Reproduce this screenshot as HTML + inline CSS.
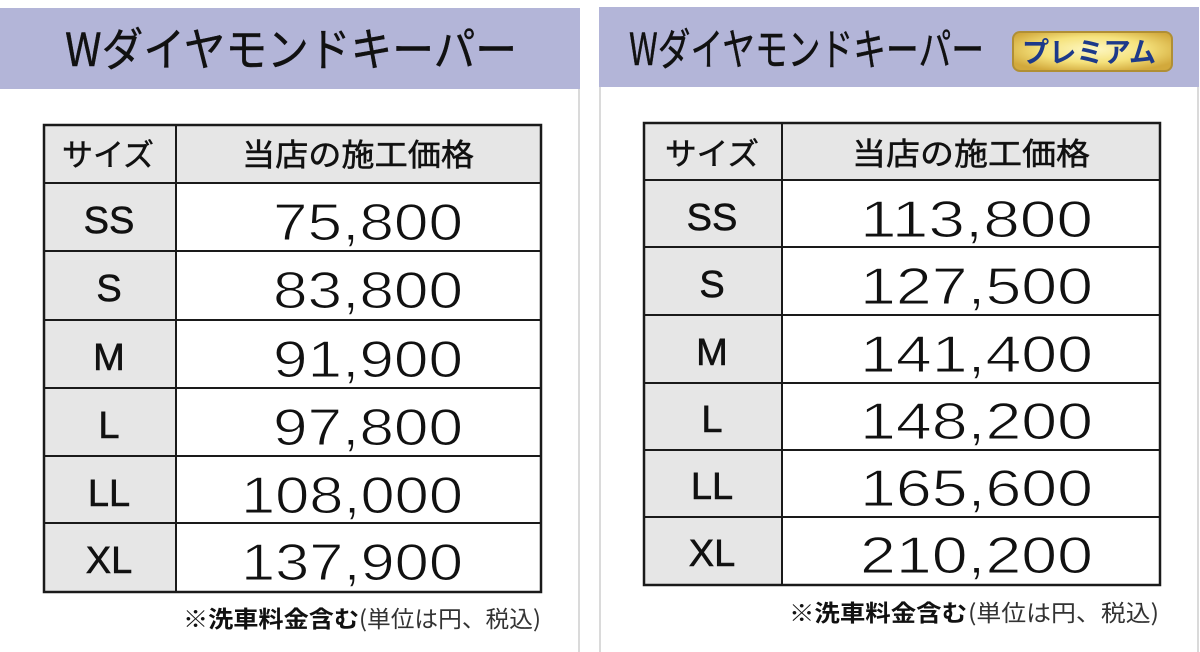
<!DOCTYPE html>
<html>
<head>
<meta charset="utf-8">
<style>
html,body{margin:0;padding:0;background:#fff;}
svg{display:block;}
.cj{font-family:"Noto Sans CJK JP",sans-serif;}
.num{font-family:"Liberation Sans",sans-serif;font-size:52px;fill:#111;stroke:#fff;stroke-width:1.1px;}
.lbl{font-family:"Liberation Sans",sans-serif;font-size:38px;fill:#111;stroke:#111;stroke-width:0.6px;}
</style>
</head>
<body>
<svg width="1200" height="652" viewBox="0 0 1200 652" xmlns="http://www.w3.org/2000/svg">
<defs>
<radialGradient id="gold" cx="0.5" cy="0.45" r="0.6">
<stop offset="0" stop-color="#fdf7c4"/>
<stop offset="0.55" stop-color="#f5e27c"/>
<stop offset="1" stop-color="#d2a93c"/>
</radialGradient>
</defs>
<rect width="1200" height="652" fill="#fff"/>

<!-- LEFT PANEL -->
<rect x="0" y="8" width="580" height="81" fill="#b3b5d8"/>
<rect x="578" y="89" width="2" height="563" fill="#dadada"/>
<text class="cj" x="65" y="66" font-size="46" fill="#111" stroke="#111" stroke-width="0.4" textLength="452" lengthAdjust="spacingAndGlyphs">Wダイヤモンドキーパー</text>

<rect x="44" y="125" width="497" height="58" fill="#e6e6e6"/>
<rect x="44" y="183" width="132" height="409" fill="#e6e6e6"/>
<g stroke="#1a1a1a" stroke-width="2" fill="none">
<rect x="44" y="125" width="497" height="467" stroke-width="2.5"/>
<line x1="176" y1="125" x2="176" y2="592"/>
<line x1="44" y1="183" x2="541" y2="183"/>
<line x1="44" y1="251" x2="541" y2="251"/>
<line x1="44" y1="320" x2="541" y2="320"/>
<line x1="44" y1="388" x2="541" y2="388"/>
<line x1="44" y1="456" x2="541" y2="456"/>
<line x1="44" y1="523" x2="541" y2="523"/>
</g>
<text class="cj" x="108" y="166" font-size="31" fill="#111" stroke="#111" stroke-width="0.5" text-anchor="middle" textLength="92" lengthAdjust="spacingAndGlyphs">サイズ</text>
<text class="cj" x="358" y="166" font-size="31" fill="#111" stroke="#111" stroke-width="0.5" text-anchor="middle" textLength="232" lengthAdjust="spacingAndGlyphs">当店の施工価格</text>

<text class="lbl" x="109" y="233" text-anchor="middle">SS</text>
<text class="lbl" x="109" y="301" text-anchor="middle">S</text>
<text class="lbl" x="109" y="370" text-anchor="middle">M</text>
<text class="lbl" x="109" y="438" text-anchor="middle">L</text>
<text class="lbl" x="109" y="506" text-anchor="middle">LL</text>
<text class="lbl" x="109" y="573" text-anchor="middle">XL</text>

<text class="num" x="463" y="240" text-anchor="end" textLength="190" lengthAdjust="spacingAndGlyphs">75,800</text>
<text class="num" x="463" y="308" text-anchor="end" textLength="190" lengthAdjust="spacingAndGlyphs">83,800</text>
<text class="num" x="463" y="377" text-anchor="end" textLength="190" lengthAdjust="spacingAndGlyphs">91,900</text>
<text class="num" x="463" y="445" text-anchor="end" textLength="190" lengthAdjust="spacingAndGlyphs">97,800</text>
<text class="num" x="463" y="513" text-anchor="end" textLength="222" lengthAdjust="spacingAndGlyphs">108,000</text>
<text class="num" x="463" y="580" text-anchor="end" textLength="222" lengthAdjust="spacingAndGlyphs">137,900</text>

<text class="cj" x="183" y="627" font-size="23" font-weight="bold" fill="#111" textLength="176" lengthAdjust="spacingAndGlyphs">※洗車料金含む</text>
<text class="cj" x="359" y="627" font-size="23" fill="#333" textLength="182" lengthAdjust="spacingAndGlyphs">(単位は円、税込)</text>

<!-- RIGHT PANEL -->
<rect x="599" y="7" width="600" height="80" fill="#b3b5d8"/>
<rect x="599" y="87" width="2" height="565" fill="#dadada"/>
<rect x="1197" y="87" width="2" height="565" fill="#dadada"/>
<text class="cj" x="629" y="65" font-size="44" fill="#111" stroke="#111" stroke-width="0.4" textLength="355" lengthAdjust="spacingAndGlyphs">Wダイヤモンドキーパー</text>

<rect x="1013" y="32" width="159" height="39" rx="7" ry="7" fill="url(#gold)" stroke="#b08f35" stroke-width="2"/>
<text class="cj" x="1022" y="62" font-size="28" font-weight="bold" fill="#1d3a8a" textLength="134" lengthAdjust="spacingAndGlyphs">プレミアム</text>

<rect x="644" y="123" width="516" height="57" fill="#e6e6e6"/>
<rect x="644" y="180" width="138" height="405" fill="#e6e6e6"/>
<g stroke="#1a1a1a" stroke-width="2" fill="none">
<rect x="644" y="123" width="516" height="462" stroke-width="2.5"/>
<line x1="782" y1="123" x2="782" y2="585"/>
<line x1="644" y1="180" x2="1160" y2="180"/>
<line x1="644" y1="247" x2="1160" y2="247"/>
<line x1="644" y1="315" x2="1160" y2="315"/>
<line x1="644" y1="383" x2="1160" y2="383"/>
<line x1="644" y1="450" x2="1160" y2="450"/>
<line x1="644" y1="517" x2="1160" y2="517"/>
</g>
<text class="cj" x="712" y="165" font-size="31" fill="#111" stroke="#111" stroke-width="0.5" text-anchor="middle" textLength="94" lengthAdjust="spacingAndGlyphs">サイズ</text>
<text class="cj" x="971" y="165" font-size="31" fill="#111" stroke="#111" stroke-width="0.5" text-anchor="middle" textLength="238" lengthAdjust="spacingAndGlyphs">当店の施工価格</text>

<text class="lbl" x="712" y="230" text-anchor="middle">SS</text>
<text class="lbl" x="712" y="297" text-anchor="middle">S</text>
<text class="lbl" x="712" y="365" text-anchor="middle">M</text>
<text class="lbl" x="712" y="432" text-anchor="middle">L</text>
<text class="lbl" x="712" y="499" text-anchor="middle">LL</text>
<text class="lbl" x="712" y="566" text-anchor="middle">XL</text>

<text class="num" x="1093" y="237" text-anchor="end" textLength="233" lengthAdjust="spacingAndGlyphs">113,800</text>
<text class="num" x="1093" y="304" text-anchor="end" textLength="233" lengthAdjust="spacingAndGlyphs">127,500</text>
<text class="num" x="1093" y="372" text-anchor="end" textLength="233" lengthAdjust="spacingAndGlyphs">141,400</text>
<text class="num" x="1093" y="439" text-anchor="end" textLength="233" lengthAdjust="spacingAndGlyphs">148,200</text>
<text class="num" x="1093" y="506" text-anchor="end" textLength="233" lengthAdjust="spacingAndGlyphs">165,600</text>
<text class="num" x="1093" y="573" text-anchor="end" textLength="233" lengthAdjust="spacingAndGlyphs">210,200</text>

<text class="cj" x="789" y="621" font-size="23" font-weight="bold" fill="#111" textLength="178" lengthAdjust="spacingAndGlyphs">※洗車料金含む</text>
<text class="cj" x="968" y="621" font-size="23" fill="#333" textLength="191" lengthAdjust="spacingAndGlyphs">(単位は円、税込)</text>
</svg>
</body>
</html>
